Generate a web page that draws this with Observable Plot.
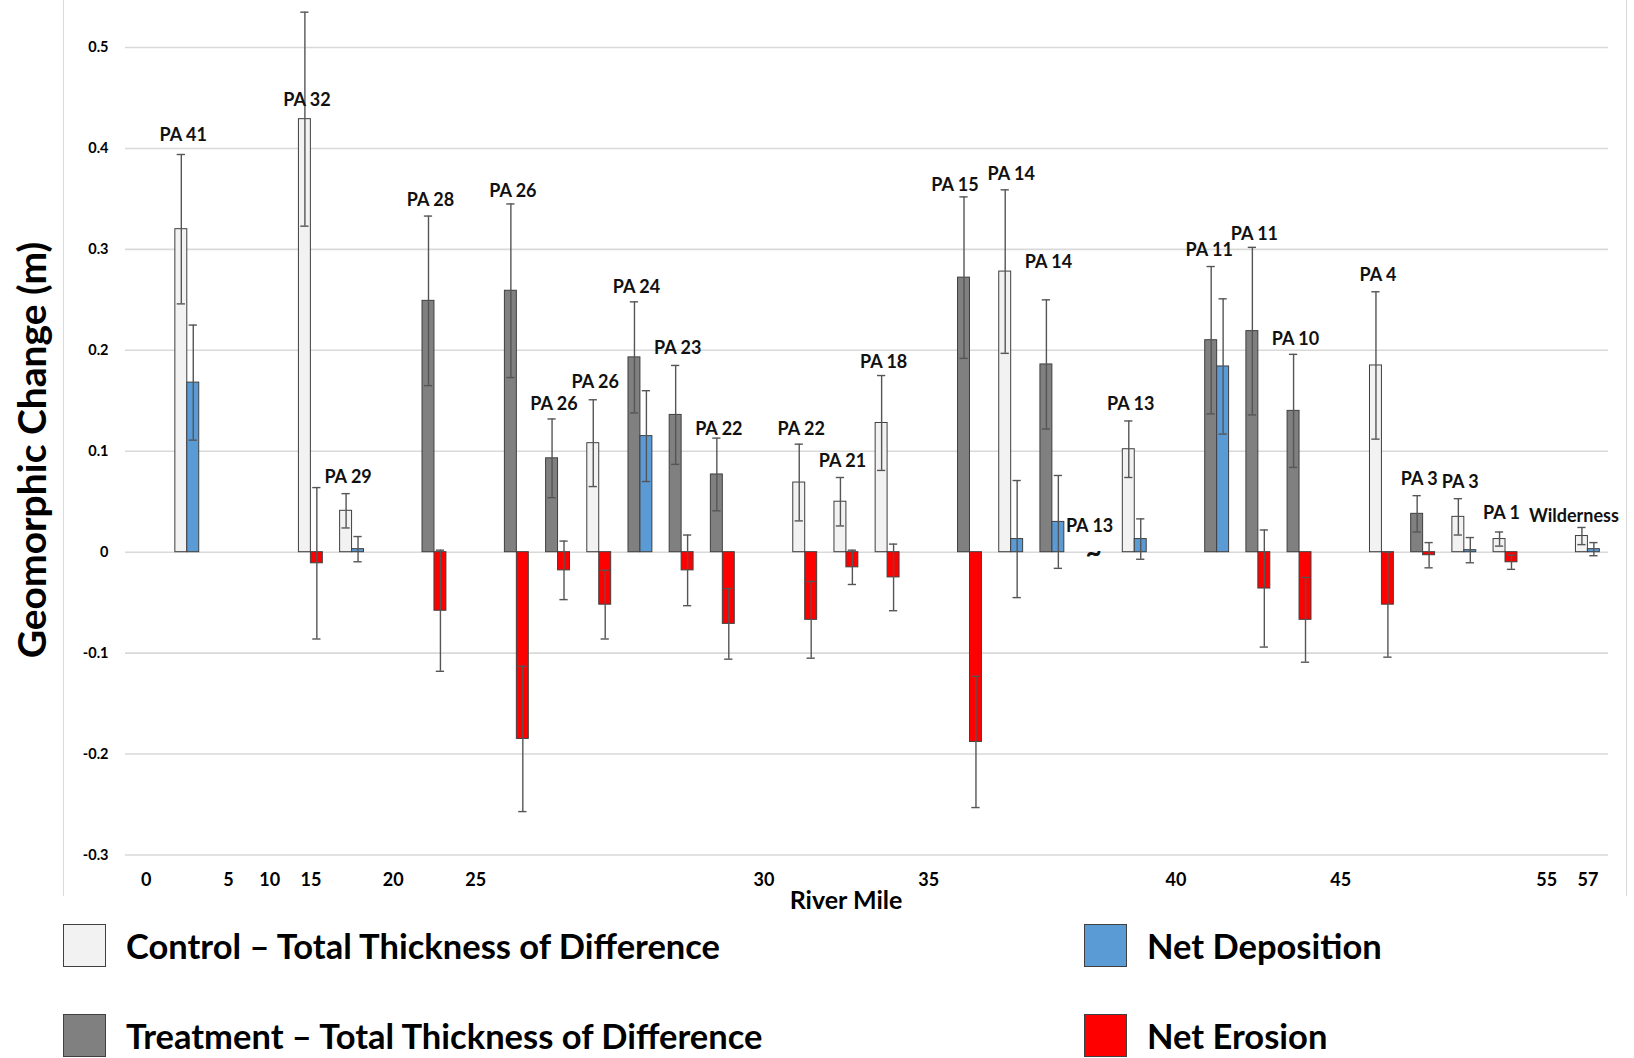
<!DOCTYPE html>
<html>
<head>
<meta charset="utf-8">
<script src="https://cdn.jsdelivr.net/npm/d3@7"></script>
<script src="https://cdn.jsdelivr.net/npm/@observablehq/plot@0.6"></script>
<style>
  html, body { margin: 0; padding: 0; background: #fff; }
  #root { position: relative; width: 1634px; height: 1058px; overflow: hidden; font-family: Lato, "Open Sans", sans-serif; }
  #box { position: absolute; left: 63px; top: 0; width: 1562px; height: 896px; border-left: 1.5px solid #d9d9d9; border-right: 1.5px solid #d9d9d9; }
  #chart { position: absolute; left: 0; top: 0; }
  #ytitle { position: absolute; left: 31px; top: 450px; transform: translate(-50%, -50%) rotate(-90deg); white-space: nowrap; font-weight: 700; font-size: 39px; color: #000; background: #fff; padding: 0 4px; }
  .leg { position: absolute; display: flex; align-items: center; white-space: nowrap; font-weight: 700; font-size: 34.5px; color: #000; }
  .sw { width: 43px; height: 43px; border: 1.5px solid #404040; margin-right: 20px; box-sizing: border-box; flex: none; }
</style>
</head>
<body>
<div id="root">
  <div id="box"></div>
  <div id="chart"></div>
  <div id="ytitle">Geomorphic Change (m)</div>
  <div id="legend"></div>
</div>
<script>
// ---- data ----
const slots = [0, 3, 4, 6, 8, 9, 10, 11, 12, 13, 15, 16, 17, 19, 20, 21, 22, 23, 25, 26, 27, 29, 30, 31, 32, 34];
const sites = ["PA 41","PA 32","PA 29","PA 28","PA 26","PA 26","PA 26","PA 24","PA 23","PA 22","PA 22","PA 21","PA 18","PA 15","PA 14","PA 14","PA 13","PA 13","PA 11","PA 11","PA 10","PA 4","PA 3","PA 3","PA 1","Wilderness"];
const reach = ["Control","Control","Control","Treatment","Treatment","Treatment","Control","Treatment","Treatment","Treatment","Control","Control","Control","Treatment","Control","Treatment",null,"Control","Treatment","Treatment","Treatment","Control","Treatment","Control","Control","Control"];
const totalTOD = [0.320,0.429,0.041,0.249,0.259,0.093,0.108,0.193,0.136,0.077,0.069,0.050,0.128,0.272,0.278,0.186,null,0.102,0.210,0.219,0.140,0.185,0.038,0.035,0.013,0.016];
const totalErr = [0.074,0.106,0.017,0.084,0.086,0.039,0.043,0.055,0.049,0.036,0.038,0.024,0.047,0.080,0.081,0.064,null,0.028,0.073,0.083,0.056,0.073,0.018,0.018,0.007,0.0085];
const netChange = [0.168,-0.011,0.003,-0.058,-0.185,-0.018,-0.052,0.115,-0.018,-0.071,-0.067,-0.015,-0.025,-0.188,0.013,0.030,null,0.013,0.184,-0.036,-0.067,-0.052,-0.003,0.002,-0.010,0.003];
const netErr = [0.057,0.075,0.0125,0.060,0.072,0.029,0.034,0.045,0.035,0.035,0.038,0.017,0.033,0.065,0.058,0.046,null,0.020,0.067,0.058,0.042,0.052,0.0125,0.0125,0.007,0.0065];
const labelAt = [0.413,0.448,0.074,0.349,0.358,0.147,0.168,0.262,0.202,0.122,0.122,0.090,0.188,0.364,0.374,0.287,0.026,0.147,0.299,0.315,0.211,0.274,0.072,0.069,0.039,0.036];
const riverMileSlots = [-1, 1, 2, 3, 5, 7, 14, 18, 24, 28, 33, 34];
const riverMileLabels = ["0","5","10","15","20","25","30","35","40","45","55","57"];
const yTicks = [-0.3,-0.2,-0.1,0,0.1,0.2,0.3,0.4,0.5];
const legendItems = [
  {name: "Control – Total Thickness of Difference", color: "#f2f2f2"},
  {name: "Treatment – Total Thickness of Difference", color: "#808080"},
  {name: "Net Deposition", color: "#5b9bd5"},
  {name: "Net Erosion", color: "#ff0000"}
];

// ---- layout / style config (not data) ----
const BW = 0.29;            // bar width in slot units
const CAP = 0.1;            // half-width of error caps, slot units
const labelDx = {13: -11, 14: 4, 18: -4, 25: -10}; // pixel nudges of some site labels, by index

// ---- build table ----
const rows = slots.map((s, i) => ({
  slot: s, site: sites[i], reach: reach[i],
  total: totalTOD[i], tErr: totalErr[i],
  net: netChange[i], nErr: netErr[i], labelAt: labelAt[i],
  dx: -4 + (labelDx[i] ?? 0)
}));
const bars = [];
const errs = [];
for (const r of rows) {
  if (r.total != null) {
    bars.push({x1: r.slot - BW, x2: r.slot, y: r.total, fill: r.reach === "Control" ? "#f2f2f2" : "#808080"});
    errs.push({x: r.slot - BW / 2, lo: r.total - r.tErr, hi: r.total + r.tErr});
  }
  if (r.net != null) {
    bars.push({x1: r.slot, x2: r.slot + BW, y: r.net, fill: r.net >= 0 ? "#5b9bd5" : "#ff0000"});
    errs.push({x: r.slot + BW / 2, lo: r.net - r.nErr, hi: r.net + r.nErr});
  }
}
const caps = errs.flatMap(e => [{x: e.x, y: e.lo}, {x: e.x, y: e.hi}]);
const labelMap = new Map(riverMileSlots.map((s, i) => [s, riverMileLabels[i]]));

const labelMarks = rows.map(r => Plot.text([r], {x: "slot", y: "labelAt", text: "site", dx: r.dx, fontSize: 18, fontWeight: 700, fill: "#111"}));

const chart = Plot.plot({
  width: 1634,
  height: 935,
  marginLeft: 125,
  marginRight: 26,
  marginTop: 47,
  marginBottom: 80.5,
  style: {fontFamily: "Lato, 'Open Sans', sans-serif", background: "transparent"},
  x: {domain: [-1.5, 34.5]},
  y: {domain: [-0.3, 0.5]},
  marks: [
    Plot.gridY(yTicks, {stroke: "#d9d9d9", strokeOpacity: 1, strokeWidth: 1.6}),
    Plot.axisY({ticks: yTicks, tickSize: 0, tickPadding: 17, tickFormat: d => d === 0 ? "0" : d.toFixed(1), fontSize: 14.5, fontWeight: 700, label: null}),
    Plot.axisX({ticks: riverMileSlots, tickSize: 0, tickPadding: 18, tickFormat: d => labelMap.get(d), fontSize: 18, fontWeight: 700, label: "River Mile", labelAnchor: "center", labelOffset: 54, labelArrow: "none"}),
    Plot.rect(bars, {x1: "x1", x2: "x2", y1: 0, y2: "y", fill: "fill", stroke: "#3f3f3f", strokeWidth: 1}),
    Plot.ruleX(errs, {x: "x", y1: "lo", y2: "hi", stroke: "#555", strokeWidth: 1.4}),
    Plot.ruleY(caps, {y: "y", x1: d => d.x - CAP, x2: d => d.x + CAP, stroke: "#555", strokeWidth: 1.4}),
    ...labelMarks,
    Plot.text(rows.filter(r => r.total == null), {x: "slot", y: 0, text: () => "~", fontSize: 28, fontWeight: 700, fill: "#111", dy: 1})
  ]
});
chart.querySelectorAll("[aria-label='x-axis label'] text").forEach(t => {
  t.setAttribute("font-size", 25); t.setAttribute("font-weight", 700); t.setAttribute("fill", "#000"); t.setAttribute("dx", -21);
});
document.getElementById("chart").appendChild(chart);

// ---- legend ----
const legend = document.getElementById("legend");
const pos = [
  {left: 63, top: 945}, {left: 63, top: 1035},
  {left: 1084, top: 945}, {left: 1084, top: 1035}
];
legendItems.forEach((it, i) => {
  const d = document.createElement("div");
  d.className = "leg";
  d.style.left = pos[i].left + "px";
  d.style.top = (pos[i].top - 22) + "px";
  d.style.height = "44px";
  const sw = document.createElement("div");
  sw.className = "sw";
  sw.style.background = it.color;
  d.appendChild(sw);
  const s = document.createElement("span");
  s.textContent = it.name;
  d.appendChild(s);
  legend.appendChild(d);
});
</script>
</body>
</html>
